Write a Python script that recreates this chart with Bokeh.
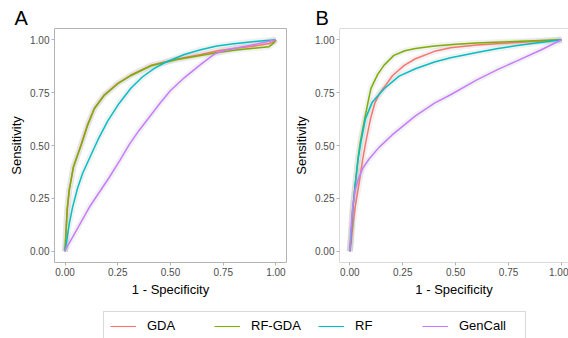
from bokeh.plotting import figure
from bokeh.layouts import column, row
from bokeh.models import Range1d, FixedTicker, NumeralTickFormatter, Legend, LegendItem, Span
from bokeh.embed import file_html
from bokeh.resources import INLINE

# ---------------- data ----------------
series_names = ["GDA", "RF-GDA", "RF", "GenCall"]
series_colors = ["#F8766D", "#7CAE00", "#00BFC4", "#C77CFF"]
tick_values = [0.0, 0.25, 0.5, 0.75, 1.0]

# Panel A
a_gda_x = [0, 0.005, 0.01, 0.02, 0.04, 0.076, 0.107, 0.139, 0.186, 0.25, 0.313, 0.408, 0.526, 0.643, 0.724, 0.80, 0.88, 0.968, 0.99, 1]
a_gda_y = [0, 0.10, 0.19, 0.29, 0.40, 0.505, 0.60, 0.676, 0.74, 0.794, 0.833, 0.879, 0.908, 0.93, 0.948, 0.958, 0.968, 0.982, 0.99, 1]
a_rfgda_x = [0, 0.005, 0.01, 0.02, 0.04, 0.076, 0.107, 0.139, 0.186, 0.25, 0.313, 0.408, 0.526, 0.643, 0.724, 0.80, 0.88, 0.968, 0.99, 1]
a_rfgda_y = [0, 0.10, 0.20, 0.29, 0.40, 0.50, 0.595, 0.674, 0.737, 0.792, 0.831, 0.877, 0.905, 0.925, 0.94, 0.95, 0.958, 0.967, 0.985, 1]
a_rf_x = [0, 0.005, 0.02, 0.036, 0.06, 0.084, 0.123, 0.155, 0.202, 0.257, 0.313, 0.368, 0.42, 0.469, 0.565, 0.643, 0.72, 0.80, 0.90, 1]
a_rf_y = [0, 0.03, 0.13, 0.21, 0.30, 0.37, 0.455, 0.525, 0.615, 0.70, 0.772, 0.825, 0.862, 0.89, 0.93, 0.953, 0.97, 0.981, 0.992, 1]
a_gc_x = [0, 0.005, 0.06, 0.115, 0.21, 0.26, 0.305, 0.35, 0.40, 0.45, 0.50, 0.565, 0.645, 0.708, 0.75, 0.80, 0.90, 1]
a_gc_y = [0, 0.013, 0.11, 0.208, 0.35, 0.43, 0.505, 0.57, 0.635, 0.70, 0.76, 0.82, 0.885, 0.932, 0.948, 0.958, 0.978, 1]

# Panel B
b_gda_x = [0, 0.005, 0.012, 0.024, 0.046, 0.06, 0.077, 0.098, 0.118, 0.14, 0.162, 0.202, 0.257, 0.31, 0.40, 0.476, 0.60, 0.712, 0.85, 1]
b_gda_y = [0, 0.03, 0.10, 0.20, 0.335, 0.43, 0.524, 0.627, 0.70, 0.745, 0.775, 0.831, 0.879, 0.91, 0.945, 0.962, 0.975, 0.982, 0.99, 1]
b_rfgda_x = [0, 0.005, 0.014, 0.027, 0.04, 0.05, 0.072, 0.087, 0.10, 0.131, 0.162, 0.208, 0.26, 0.31, 0.40, 0.50, 0.60, 0.75, 0.90, 1]
b_rfgda_y = [0, 0.06, 0.20, 0.33, 0.45, 0.52, 0.635, 0.71, 0.77, 0.835, 0.88, 0.926, 0.948, 0.958, 0.97, 0.978, 0.984, 0.99, 0.996, 1]
b_rf_x = [0, 0.005, 0.014, 0.027, 0.04, 0.053, 0.074, 0.106, 0.162, 0.233, 0.31, 0.40, 0.476, 0.60, 0.70, 0.792, 0.90, 1]
b_rf_y = [0, 0.06, 0.20, 0.33, 0.44, 0.52, 0.627, 0.705, 0.768, 0.828, 0.863, 0.895, 0.915, 0.94, 0.958, 0.973, 0.987, 1]
b_gc_x = [0, 0.004, 0.013, 0.025, 0.04, 0.06, 0.09, 0.137, 0.20, 0.31, 0.40, 0.476, 0.60, 0.70, 0.79, 0.90, 1]
b_gc_y = [0, 0.08, 0.20, 0.29, 0.34, 0.39, 0.435, 0.49, 0.55, 0.64, 0.70, 0.74, 0.81, 0.86, 0.90, 0.95, 1]

panel_a = [(a_gda_x, a_gda_y), (a_rfgda_x, a_rfgda_y), (a_rf_x, a_rf_y), (a_gc_x, a_gc_y)]
panel_b = [(b_gda_x, b_gda_y), (b_rfgda_x, b_rfgda_y), (b_rf_x, b_rf_y), (b_gc_x, b_gc_y)]

FONT = "Liberation Sans"
BORDER = "#B3B3B3"
Y0, Y1 = -0.053, 1.053


def make_panel(curves, letter, width, border_left, border_right, x_start, x_end, letter_offset, outline):
    p = figure(width=width, height=300, output_backend="svg", toolbar_location=None,
               x_range=Range1d(x_start, x_end), y_range=Range1d(Y0, Y1),
               min_border_left=border_left, min_border_right=border_right,
               min_border_top=28, min_border_bottom=38)
    p.grid.visible = False
    p.background_fill_color = "white"
    p.border_fill_color = "white"
    if outline:
        p.outline_line_color = BORDER
        p.outline_line_width = 1
    else:
        p.outline_line_color = None
        p.add_layout(Span(location=Y0, dimension="width", line_color=BORDER, line_width=1))
        p.add_layout(Span(location=Y1, dimension="width", line_color=BORDER, line_width=1))
        p.add_layout(Span(location=x_start, dimension="height", line_color=BORDER, line_width=1))
    for ax in (p.xaxis[0], p.yaxis[0]):
        ax.ticker = FixedTicker(ticks=tick_values)
        ax.formatter = NumeralTickFormatter(format="0.00")
        ax.axis_line_color = None
        ax.major_tick_in = 0
        ax.major_tick_out = 3
        ax.minor_tick_line_color = None
        ax.major_tick_line_color = BORDER
        ax.major_label_text_color = "#4D4D4D"
        ax.major_label_text_font = FONT
        ax.major_label_text_font_size = "10px"
        ax.major_label_standoff = 2
        ax.axis_label_text_font = FONT
        ax.axis_label_text_font_size = "13px"
        ax.axis_label_text_font_style = "normal"
        ax.axis_label_text_color = "black"
        ax.axis_label_standoff = 3
    p.xaxis.axis_label = "1 - Specificity"
    p.yaxis.axis_label = "Sensitivity"

    p.title.text = letter
    p.title.text_font = FONT
    p.title.text_font_size = "20px"
    p.title.text_font_style = "normal"
    p.title.text_color = "black"
    p.title.align = "left"
    p.title.offset = letter_offset
    p.title.standoff = 0
    p.title.vertical_align = "bottom"

    for (xs, ys) in curves:
        p.line(xs, ys, line_color="#9E9E9E", line_alpha=0.15, line_width=6)
    for (xs, ys), c in zip(curves, series_colors):
        p.line(xs, ys, line_color=c, line_width=1.5)
    return p


pa = make_panel(panel_a, "A", 290, 54, 4, -0.05, 1.05, -40, True)
pb = make_panel(panel_b, "B", 278, 49, 0, -0.0487, 1.033, -24, False)

# Legend strip (its line renderers use the data but lie outside the strip's visible ranges)
pl = figure(width=568, height=38, output_backend="svg", toolbar_location=None,
            x_range=Range1d(10, 11), y_range=Range1d(10, 11),
            min_border=0, min_border_left=0, min_border_right=0, min_border_top=0, min_border_bottom=0)
pl.axis.visible = False
pl.grid.visible = False
pl.outline_line_color = None
items = []
for name, c, (xs, ys) in zip(series_names, series_colors, panel_a):
    r = pl.line(xs, ys, line_color=c, line_width=1.1)
    items.append(LegendItem(label=name, renderers=[r]))
legend = Legend(items=items, orientation="horizontal", location=(103, -2),
                glyph_width=26, glyph_height=12, label_width=60, label_height=12,
                label_standoff=11, spacing=7, padding=6, margin=0,
                border_line_color=BORDER, border_line_width=1,
                label_text_font=FONT, label_text_font_size="13px", label_text_color="black",
                background_fill_color="white", background_fill_alpha=1.0)
pl.add_layout(legend, "center")

layout = column(row(pa, pb), pl)

open("out.html", "w").write(file_html(layout, INLINE))
